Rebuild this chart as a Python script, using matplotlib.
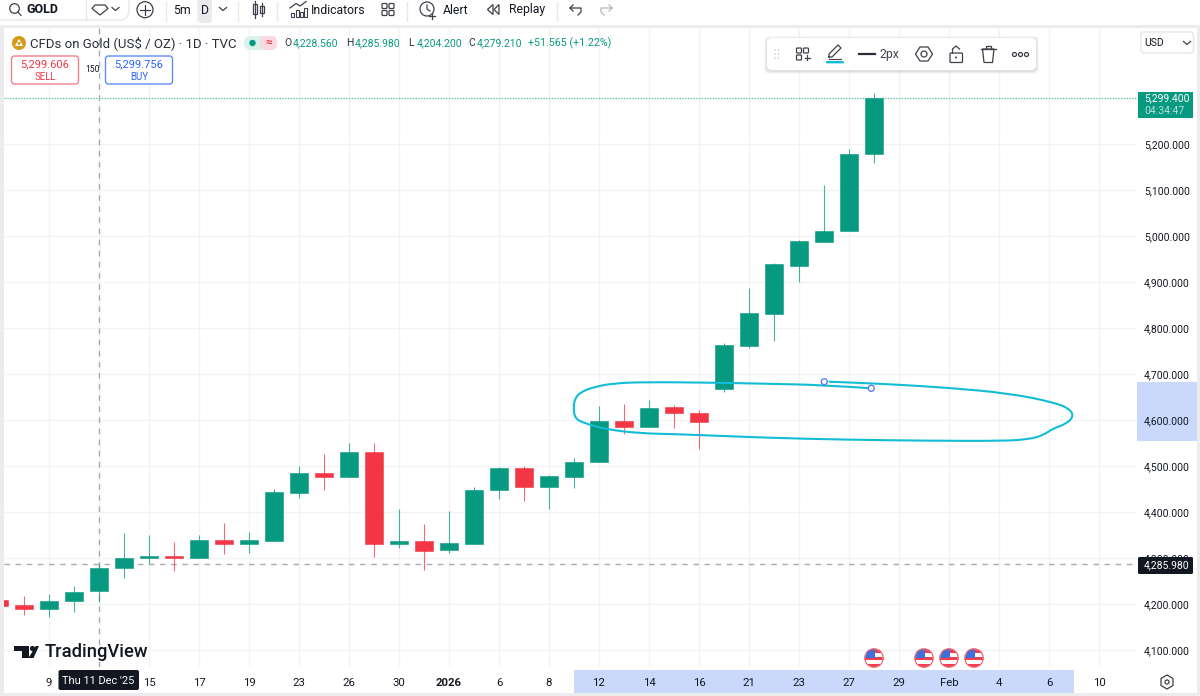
import matplotlib
matplotlib.use("Agg")
import matplotlib.pyplot as plt
from matplotlib.patches import Circle, FancyBboxPatch, PathPatch, Polygon, Rectangle
from matplotlib.path import Path

plt.rcParams["font.family"] = ["Roboto", "DejaVu Sans"]

# daily candles, first one is mostly cut off by the left edge
opens = [4208.7, 4197.8, 4190.0, 4205.9, 4228.56, 4279.0, 4299.0, 4304.0, 4300.6, 4339.0, 4330.4, 4337.6,
         4442.0, 4484.0, 4476.8, 4531.0, 4330.0, 4337.6, 4317.0, 4330.4, 4448.0, 4495.0, 4455.0, 4476.8,
         4508.7, 4598.0, 4584.0, 4627.6, 4616.0, 4668.0, 4761.5, 4829.8, 4934.0, 4987.0, 5010.9, 5178.0]
highs = [4209.0, 4218.0, 4222.0, 4239.0, 4285.98, 4353.7, 4350.0, 4335.0, 4350.0, 4376.0, 4356.0, 4450.0,
         4500.6, 4526.0, 4549.0, 4549.0, 4406.0, 4374.0, 4402.0, 4455.0, 4498.0, 4500.6, 4480.0, 4516.7,
         4630.0, 4635.0, 4643.5, 4632.6, 4621.7, 4766.7, 4887.6, 4941.0, 4991.0, 5110.9, 5190.0, 5311.5]
lows = [4196.0, 4176.0, 4171.0, 4182.0, 4204.2, 4257.0, 4287.0, 4272.0, 4300.0, 4308.7, 4310.0, 4337.0,
        4431.0, 4448.0, 4476.0, 4303.0, 4322.0, 4274.0, 4310.0, 4330.0, 4427.6, 4424.6, 4407.0, 4453.0,
        4508.0, 4570.0, 4584.0, 4582.0, 4537.6, 4661.0, 4756.0, 4772.4, 4900.6, 4987.0, 5010.0, 5157.8]
closes = [4196.0, 4189.8, 4207.0, 4226.7, 4279.21, 4299.3, 4304.0, 4300.0, 4338.0, 4330.4, 4339.0, 4443.5,
          4485.4, 4476.8, 4531.0, 4330.0, 4337.0, 4316.0, 4332.0, 4447.8, 4495.0, 4455.0, 4478.0, 4509.0,
          4598.0, 4584.0, 4626.7, 4615.0, 4595.0, 4763.0, 4832.0, 4938.5, 4988.5, 5010.0, 5179.0, 5299.4]

price_ticks = [4100, 4200, 4300, 4400, 4500, 4600, 4700, 4800, 4900, 5000, 5100, 5200]
date_tick_bars = [2, 4, 6, 8, 10, 12, 14, 16, 18, 20, 22, 24, 26, 28, 30, 32, 34, 36, 38, 40, 42, 44]
# the tick under the crosshair date tag shows no label of its own
date_tick_labels = ["9", "", "15", "17", "19", "23", "26", "30", "2026", "6", "8", "12",
                    "14", "16", "21", "23", "27", "29", "Feb", "4", "6", "10"]
last_price = 5299.4
crosshair_price = 4285.98
crosshair_bar = 4

GREEN = "#089981"
RED = "#F23645"
INK = "#131722"
GRID = "#f2f3f5"
BLUE_BAND = "#c9d8fb"
CYAN = "#12bcd6"
ICON = "#3d404a"
PRICE_SIZE = 7.5

fig = plt.figure(figsize=(12, 6.96), dpi=100, facecolor="white")


def px_axes(zorder):
    a = fig.add_axes([0, 0, 1, 1], zorder=zorder)
    a.set_xlim(0, 1200)
    a.set_ylim(696, 0)
    a.axis("off")
    a.patch.set_alpha(0)
    return a


bg = px_axes(0)
fg = px_axes(3)

# main chart, 4..1137 px wide and 27..667 px high
ax = fig.add_axes([4 / 1200, 1 - 667 / 696, 1133 / 1200, 640 / 696], zorder=1)
ax.patch.set_alpha(0)
ax.set_xlim(0.2, 45.52)
ax.set_ylim(4063.0, 5454.3)
for s in ax.spines.values():
    s.set_visible(False)

ax.set_yticks(price_ticks)
ax.set_yticklabels([f"{p:,.3f}" for p in price_ticks], fontsize=PRICE_SIZE, color=INK)
ax.yaxis.tick_right()
ax.tick_params(axis="y", length=0, pad=5)
ax.set_xticks(date_tick_bars)
ax.set_xticklabels(date_tick_labels, fontsize=8.2, color=INK)
ax.tick_params(axis="x", length=0, pad=8)
for lab in ax.get_xticklabels():
    if lab.get_text() == "2026":
        lab.set_fontweight("bold")
ax.grid(True, color=GRID, linewidth=1)
ax.set_axisbelow(True)

for i in range(len(opens)):
    col = GREEN if closes[i] >= opens[i] else RED
    ax.vlines(i, lows[i], highs[i], color=col, linewidth=0.8, alpha=0.75, zorder=2)
    ax.bar(i, abs(closes[i] - opens[i]), bottom=min(opens[i], closes[i]), width=0.74,
           color=col, edgecolor=col, linewidth=0.4, zorder=3)

ax.axhline(last_price, color="#6cc0b1", linewidth=1, linestyle=(0, (1, 1)), zorder=1.5)
ax.axhline(crosshair_price, color="#a8abb3", linewidth=1, linestyle=(0, (4, 4)), zorder=1.5)
ax.axvline(crosshair_bar, color="#a8abb3", linewidth=1, linestyle=(0, (4, 4)), zorder=1.5)

# window frame and selected range bands
bg.add_patch(Rectangle((0, 24.5), 1200, 3.5, color="#ececee", lw=0))
bg.add_patch(Rectangle((0, 24.5), 3.5, 672, color="#ececee", lw=0))
bg.add_patch(Rectangle((1197, 24.5), 3, 672, color="#ececee", lw=0))
bg.add_patch(Rectangle((0, 692.5), 1200, 3.5, color="#ececee", lw=0))
bg.add_patch(Rectangle((1137, 382), 60, 59, color=BLUE_BAND, lw=0))
bg.add_patch(Rectangle((574, 670), 500, 22.5, color=BLUE_BAND, lw=0))


def chevron(x, y, c=ICON):
    fg.plot([x - 3.5, x, x + 3.5], [y - 1.5, y + 1.5, y - 1.5], color=c, lw=0.9)


def sep(x):
    fg.plot([x, x], [2, 21], color="#e6e7ea", lw=1)


def label(x, y, s, size=8.8, color=INK, ha="left", **kw):
    fg.text(x, y, s, fontsize=size, color=color, ha=ha, va="center", **kw)


def grid_icon(x, y, plus=False):
    for dx, dy in [(-6, -6), (1, -6), (-6, 1), (1, 1)]:
        if plus and dx == 1 and dy == 1:
            fg.plot([x + 4.5, x + 4.5], [y + 1, y + 6], color=ICON, lw=0.9)
            fg.plot([x + 2, x + 7], [y + 3.5, y + 3.5], color=ICON, lw=0.9)
            continue
        fg.add_patch(FancyBboxPatch((x + dx, y + dy), 5, 5, boxstyle="round,pad=0,rounding_size=1",
                                    fc="none", ec=ICON, lw=0.9))


# top toolbar
fg.add_patch(FancyBboxPatch((-10, -6), 139, 26, boxstyle="round,pad=0,rounding_size=10", fc="white", ec="#e6e7ea", lw=1))
fg.add_patch(Circle((14.5, 8.5), 4.8, fc="none", ec=ICON, lw=0.9))
fg.plot([18, 21], [12, 15.5], color=ICON, lw=0.9)
label(26.5, 9.5, "GOLD", size=9, fontweight="bold")
fg.plot([86, 86], [0, 20], color="#e6e7ea", lw=1)
fg.add_patch(Polygon([(95, 5), (105, 5), (108, 8.5), (100, 15), (92, 8.5)], fc="none", ec=ICON, lw=0.9))
chevron(115.5, 9)
fg.add_patch(Circle((145, 9.7), 8, fc="none", ec=ICON, lw=0.9))
fg.plot([145, 145], [5, 14.5], color=ICON, lw=0.9)
fg.plot([140, 150], [9.7, 9.7], color=ICON, lw=0.9)
sep(166)
label(182, 10, "5m", ha="center")
fg.add_patch(FancyBboxPatch((197.5, -4), 14.5, 27, boxstyle="round,pad=0,rounding_size=3", fc="#ebebed", ec="none"))
label(204.5, 10, "D", ha="center")
chevron(223, 9)
sep(238)
fg.add_patch(Rectangle((253, 4), 3.5, 10, fc="none", ec=ICON, lw=0.9))
fg.add_patch(Rectangle((260, 6), 3.5, 7, fc="none", ec=ICON, lw=0.9))
fg.plot([254.75, 254.75], [1, 18], color=ICON, lw=0.9)
fg.plot([261.75, 261.75], [3, 16], color=ICON, lw=0.9)
sep(277)
for bx, bh in [(291, 4), (295.5, 7), (300, 5), (304, 9)]:
    fg.add_patch(Rectangle((bx, 17 - bh), 3, bh, fc="none", ec=ICON, lw=0.8))
fg.plot([290, 296, 300, 306], [8, 3.5, 6, 1.5], color=ICON, lw=0.9)
label(311, 10, "Indicators")
grid_icon(388, 9.5)
sep(407)
fg.add_patch(Circle((427, 9), 7, fc="none", ec=ICON, lw=0.9))
fg.plot([427, 427, 430], [5, 9, 11], color=ICON, lw=0.9)
fg.plot([432, 432], [13, 19], color=ICON, lw=0.9)
fg.plot([429, 435], [16, 16], color=ICON, lw=0.9)
label(443, 10, "Alert")
fg.add_patch(Polygon([(493, 4.5), (493, 14.5), (487.5, 9.5)], fc="none", ec=ICON, lw=0.9))
fg.add_patch(Polygon([(499, 4.5), (499, 14.5), (494, 9.5)], fc="none", ec=ICON, lw=0.9))
label(509, 10, "Replay")
sep(557)
fg.plot([570, 575, 581, 581, 578], [8, 8, 8, 12, 15], color=ICON, lw=0.9)
fg.plot([573, 570, 573], [5, 8, 11], color=ICON, lw=0.9)
fg.plot([612, 607, 601, 601, 604], [8, 8, 8, 12, 15], color="#b2b5be", lw=0.9)
fg.plot([609, 612, 609], [5, 8, 11], color="#b2b5be", lw=0.9)

# legend line
fg.add_patch(Circle((19, 43), 7, fc="#d49a18", ec="none"))
fg.add_patch(Polygon([(15, 46), (19, 46), (17, 42)], fc="white", ec="none"))
fg.add_patch(Polygon([(19, 46), (23, 46), (21, 42)], fc="white", ec="none"))
fg.add_patch(Polygon([(17, 42), (21, 42), (19, 39)], fc="white", ec="none"))
label(30.5, 43, "CFDs on Gold (US$ / OZ) · 1D · TVC", size=9.5, color="#2a2e39")
fg.add_patch(FancyBboxPatch((244, 36), 33, 14, boxstyle="round,pad=0,rounding_size=7", fc="#daf1ed", ec="none"))
fg.add_patch(FancyBboxPatch((260, 36), 17, 14, boxstyle="round,pad=0,rounding_size=6", fc="#fbd9e0", ec="none"))
fg.add_patch(Circle((252.5, 43), 3.2, fc=GREEN, ec="none"))
label(268.5, 42.5, "≈", size=8.5, color=RED, ha="center", fontweight="bold")
for x, head, val in [(284.5, "O", "4,228.560"), (346, "H", "4,285.980"), (408, "L", "4,204.200"), (468, "C", "4,279.210")]:
    label(x, 43, head, size=PRICE_SIZE, color="#2a2e39")
    label(x + 8.5, 43, val, size=PRICE_SIZE, color=GREEN)
label(528.5, 43, "+51.565 (+1.22%)", size=7.7, color=GREEN)

# buy and sell buttons
fg.add_patch(Rectangle((88, 62), 11, 16, fc="white", ec="none"))
label(92.5, 70, "150", size=6.2, ha="center")
fg.add_patch(FancyBboxPatch((11.5, 56), 67, 28, boxstyle="round,pad=0,rounding_size=3", fc="white", ec="#f0808c", lw=1))
label(45, 64, "5,299.606", size=8, color=RED, ha="center")
label(45, 76.5, "SELL", size=7, color=RED, ha="center")
fg.add_patch(FancyBboxPatch((105.5, 56), 67, 28, boxstyle="round,pad=0,rounding_size=3", fc="white", ec="#5f8cf5", lw=1))
label(139, 64, "5,299.756", size=8, color="#2962ff", ha="center")
label(139, 76.5, "BUY", size=7, color="#2962ff", ha="center")

# floating drawing toolbar
for off, al in [(3, 0.03), (2, 0.04), (1, 0.05)]:
    fg.add_patch(FancyBboxPatch((767 - off, 38 - off + 1), 269 + 2 * off, 32 + 2 * off,
                                boxstyle="round,pad=0,rounding_size=5", fc="black", alpha=al, ec="none"))
fg.add_patch(FancyBboxPatch((767, 38), 269, 32, boxstyle="round,pad=0,rounding_size=5", fc="white", ec="none"))
for dx in (775, 778.5):
    for dy in (50, 54, 58):
        fg.add_patch(Circle((dx, dy), 0.8, fc="#c4c6cc", ec="none"))
grid_icon(802.5, 54, plus=True)
fg.plot([829, 832, 841, 838, 829, 829], [57, 57, 48, 45, 54, 57], color=ICON, lw=0.9)
fg.plot([829, 841], [58.5, 58.5], color=ICON, lw=0.8)
fg.add_patch(FancyBboxPatch((826, 61), 18, 2.4, boxstyle="round,pad=0,rounding_size=1", fc=CYAN, ec="none"))
fg.plot([859, 874.5], [54, 54], color="#2a2e39", lw=1.6)
label(880, 54.5, "2px", size=8.8, color="#40434d")
fg.add_patch(Polygon([(915.5, 54), (920, 47), (928, 47), (932.5, 54), (928, 61), (920, 61)], fc="none", ec=ICON, lw=0.9))
fg.add_patch(Circle((924, 54), 3, fc="none", ec=ICON, lw=0.9))
fg.add_patch(FancyBboxPatch((950, 53), 12.5, 9.5, boxstyle="round,pad=0,rounding_size=1", fc="none", ec=ICON, lw=0.9))
fg.plot([952.5, 952.5, 956, 959.5], [53, 49, 46, 49], color=ICON, lw=0.9)
fg.add_patch(Circle((956, 57.5), 1, fc=ICON, ec="none"))
fg.add_patch(Polygon([(982.5, 49), (994, 49), (992.5, 62.5), (984, 62.5)], fc="none", ec=ICON, lw=0.9))
fg.plot([981, 995.5], [48.5, 48.5], color=ICON, lw=0.9)
fg.plot([985.5, 985.5, 991, 991], [48.5, 46, 46, 48.5], color=ICON, lw=0.9)
for dx in (1014.5, 1020.5, 1026.5):
    fg.add_patch(Circle((dx, 54.5), 2, fc="none", ec=ICON, lw=0.9))

# USD box and price tags
fg.add_patch(FancyBboxPatch((1141, 32), 52.5, 21, boxstyle="round,pad=0,rounding_size=3", fc="white", ec="#e6e7ea", lw=1))
label(1144, 43, "USD", size=PRICE_SIZE)
chevron(1187, 43)
fg.add_patch(Rectangle((1137.5, 92), 55.5, 26, color=GREEN, lw=0))
label(1144, 98.5, "5,299.400", size=PRICE_SIZE, color="white")
label(1144, 111, "04:34:47", size=PRICE_SIZE, color="#b5e0d8")
fg.add_patch(FancyBboxPatch((1138, 557), 55, 17, boxstyle="round,pad=0,rounding_size=1.5", fc=INK, ec="none"))
label(1144, 565, "4,285.980", size=PRICE_SIZE, color="white")
fg.add_patch(FancyBboxPatch((58.5, 670), 80.5, 20, boxstyle="round,pad=0,rounding_size=2", fc=INK, ec="none"))
label(98.5, 680.5, "Thu 11 Dec '25", size=7.9, color="white", ha="center")
fg.add_patch(Polygon([(1167, 675), (1173, 678.5), (1173, 685.5), (1167, 689), (1161, 685.5), (1161, 678.5)], fc="none", ec=ICON, lw=0.9))
fg.add_patch(Circle((1167, 682), 2, fc="none", ec=ICON, lw=0.9))

# logo
fg.add_patch(Polygon([(14, 646), (29, 646), (29, 658), (22, 658), (22, 651), (14, 651)], fc=INK, ec="none"))
fg.add_patch(Circle((32.5, 648.5), 2.6, fc=INK, ec="none"))
fg.add_patch(Polygon([(33.5, 658), (39, 646), (35.8, 646), (28.5, 658)], fc=INK, ec="none"))
label(45, 652, "TradingView", size=13.2, fontweight="medium")

# us event flags
for fx in (874, 924, 949, 974):
    clip = Circle((fx, 658), 8.6, transform=fg.transData)
    fg.add_patch(Circle((fx, 658), 9, fc="white", ec="#f0606e", lw=1.2))
    for k, c in enumerate(["#f04050", "white", "#f04050", "white", "#f04050"]):
        r = fg.add_patch(Rectangle((fx - 9, 650 + k * 3.4), 18, 3.4, color=c, lw=0))
        r.set_clip_path(clip)
    r = fg.add_patch(Rectangle((fx - 9, 649), 10, 8.5, color="#3f6fd8", lw=0))
    r.set_clip_path(clip)

# freehand brush drawing, in screen pixels
brush = [(871.3, 388.3), (824, 385), (764, 383.7), (715, 382.7), (645.7, 382), (613, 383.3), (592.7, 387.3),
         (580.4, 392.3), (575, 398.3), (573.5, 406.7), (574.7, 418.3), (584.5, 423.3), (605, 429), (637.5, 433.3),
         (682.4, 434.3), (764, 437.7), (845.7, 439.7), (927, 440.7), (1001, 441), (1029.4, 439.3), (1043.7, 435),
         (1052, 429), (1066, 424), (1073.5, 416.7), (1070, 409), (1054, 402.3), (1009, 393.3), (947.8, 387.7),
         (886.5, 384), (829.4, 381.7)]
verts = [brush[0]]
codes = [Path.MOVETO]
for a, b in zip(brush[1:-1], brush[2:]):
    verts += [a, ((a[0] + b[0]) / 2, (a[1] + b[1]) / 2)]
    codes += [Path.CURVE3, Path.CURVE3]
verts.append(brush[-1])
codes.append(Path.LINETO)
fg.add_patch(PathPatch(Path(verts, codes), fc="none", ec=CYAN, lw=1.5, capstyle="round"))
for hx, hy in [(824.3, 381.7), (871.3, 388.3)]:
    fg.add_patch(Circle((hx, hy), 3, fc="white", ec="#5f7fe8", lw=1))

fig.savefig("out.png", dpi=100)
